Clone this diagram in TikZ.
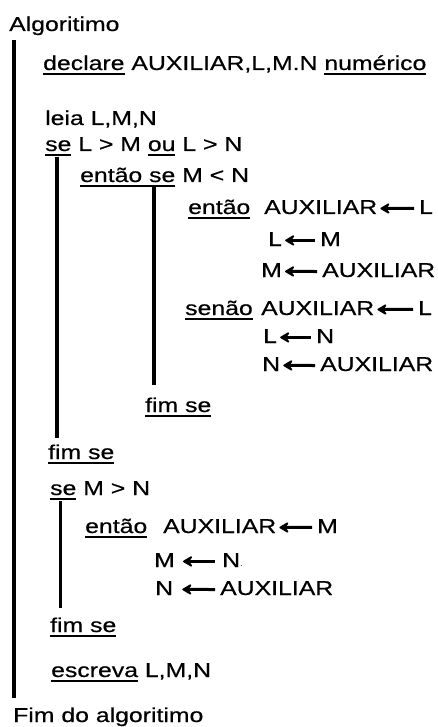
\documentclass[tikz,border=0pt]{standalone}
\usepackage{fontspec}
\setmainfont{Liberation Sans}[FakeStretch=1.24,FakeBold=0.5]
\usetikzlibrary{arrows.meta}
\newsavebox\ulbox
\newcommand\ulw[1]{\sbox\ulbox{#1}\rlap{\rule[-4.7pt]{\wd\ulbox}{1.8pt}}\usebox\ulbox}
\begin{document}
\begin{tikzpicture}[x=1pt,y=-1pt,
  txt/.style={anchor=base west,inner sep=0pt,font=\fontsize{20}{24}\selectfont},
  bar/.style={line width=3.8pt},
  arr/.style={line width=3pt,-{Stealth[length=12pt,width=14pt,inset=5pt,round]},
    shorten <=5pt,shorten >=3pt,transform canvas={yshift=-1.3pt}}]
\useasboundingbox (0,0) rectangle (438,727);
% texts
\node[txt] (t0) at (9,31) {Algoritimo};
\node[txt] (t1) at (43,70) {\ulw{declare} AUXILIAR,L,M.N \ulw{numérico}};
\node[txt] (t2) at (45,125) {leia L,M,N};
\node[txt] (t3) at (45,151) {\ulw{se} L > M \ulw{ou} L > N};
\node[txt] (t4) at (80,182) {\ulw{então se} M < N};
% then branch
\node[txt] (k1) at (188,214) {\ulw{então}};
\node[txt] (l1) at (264,214) {AUXILIAR};
\node[txt] (r1) at (419,214) {L};
\node[txt] (l2) at (268,246) {L};
\node[txt] (r2) at (320,246) {M};
\node[txt] (l3) at (261,277) {M};
\node[txt] (r3) at (322,277) {AUXILIAR};
% else branch
\node[txt] (k4) at (185,315) {\ulw{senão}};
\node[txt] (l4) at (261,315) {AUXILIAR};
\node[txt] (r4) at (418,315) {L};
\node[txt] (l5) at (263,343) {L};
\node[txt] (r5) at (316,343) {N};
\node[txt] (l6) at (262,371) {N};
\node[txt] (r6) at (320,371) {AUXILIAR};
\node[txt] (f1) at (145,412) {\ulw{fim se}};
\node[txt] (f2) at (48,459) {\ulw{fim se}};
\node[txt] (t5) at (50,495) {\ulw{se} M > N};
\node[txt] (k7) at (85,533) {\ulw{então}};
\node[txt] (l7) at (163,533) {AUXILIAR};
\node[txt] (r7) at (317,533) {M};
\node[txt] (l8) at (154,567) {M};
\node[txt] (r8) at (222,567) {N{\fontsize{6}{6}\selectfont\textperiodcentered}};
\node[txt] (l9) at (155,595) {N};
\node[txt] (r9) at (220,595) {AUXILIAR};
\node[txt] (f3) at (50,632) {\ulw{fim se}};
\node[txt] (t6) at (51,677) {\ulw{escreva} L,M,N};
\node[txt] (t7) at (13,722) {Fim do algoritimo};
% arrows
\draw[arr] (r1.west) -- (l1.east);
\draw[arr] (r2.west) -- (l2.east);
\draw[arr] (r3.west) -- (l3.east);
\draw[arr] (r4.west) -- (l4.east);
\draw[arr] (r5.west) -- (l5.east);
\draw[arr] (r6.west) -- (l6.east);
\draw[arr] (r7.west) -- (l7.east);
\draw[arr,shorten <=7pt,shorten >=8pt] (r8.west) -- (l8.east);
\draw[arr,shorten <=5pt,shorten >=9pt] (r9.west) -- (l9.east);
% bars
\coordinate (b1s) at (14,40);  \coordinate (b1e) at (14,698);
\coordinate (b2s) at (57,157); \coordinate (b2e) at (57,438);
\coordinate (b3s) at (154,187); \coordinate (b3e) at (154,385);
\coordinate (b4s) at (60.5,501); \coordinate (b4e) at (60.5,608);
\draw[bar] (b1s) -- (b1e);
\draw[bar] (b2s) -- (b2e);
\draw[bar] (b3s) -- (b3e);
\draw[bar] (b4s) -- (b4e);
\end{tikzpicture}
\end{document}
